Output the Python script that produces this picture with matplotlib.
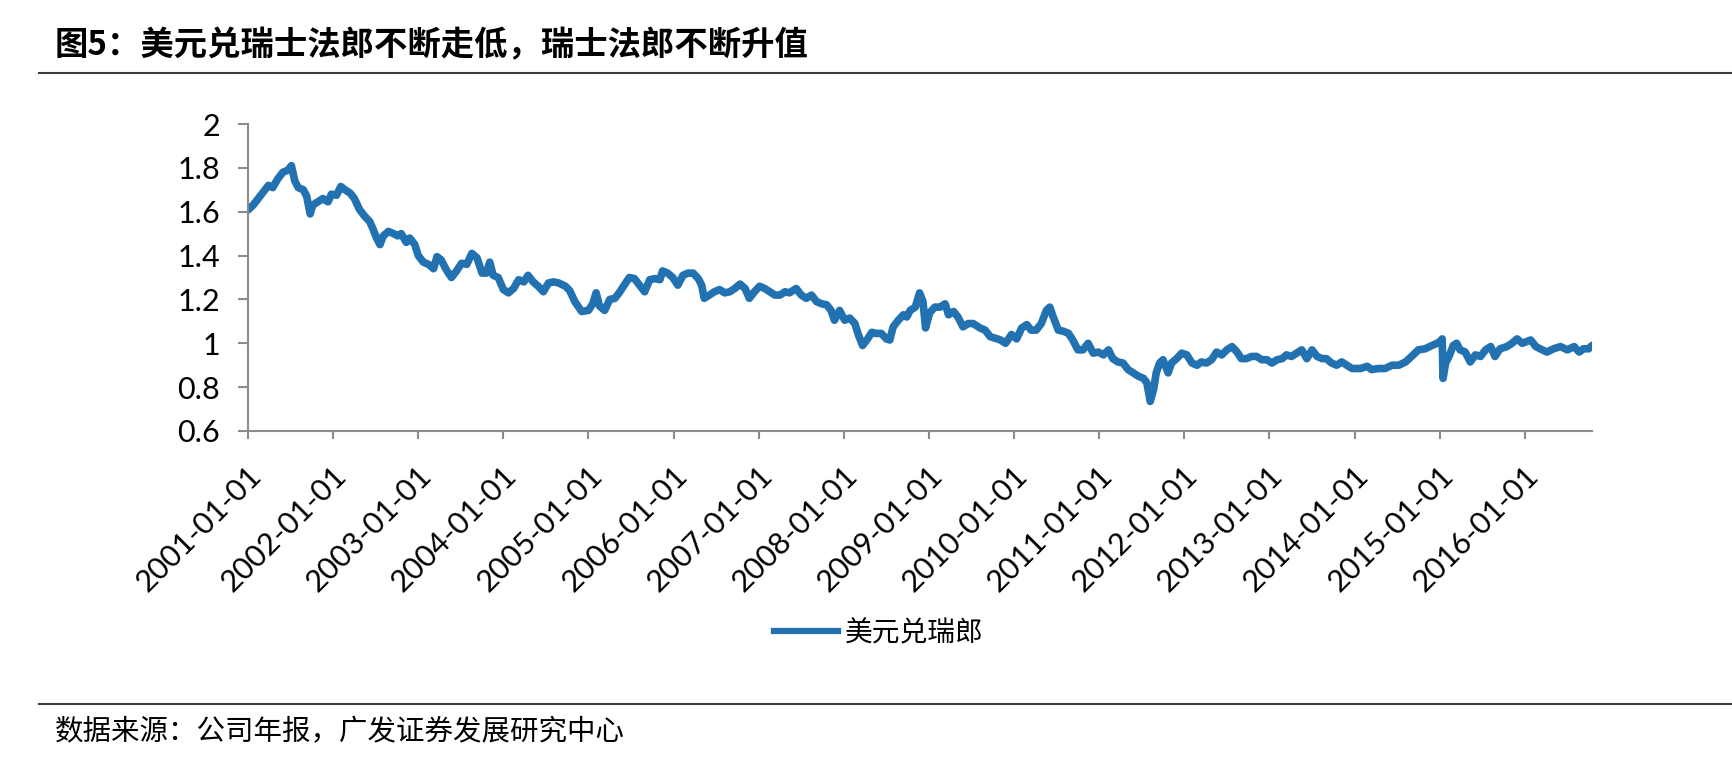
import matplotlib
matplotlib.use("Agg")
import matplotlib.pyplot as plt
import matplotlib.transforms as mtransforms
from matplotlib.lines import Line2D

plt.rcParams["font.family"] = ["Noto Sans CJK SC", "DejaVu Sans"]

# USD/CHF (decimal year, rate)
t_year = [
    2001.00, 2001.06, 2001.12, 2001.18, 2001.24, 2001.29, 2001.35, 2001.41, 2001.47, 2001.51,
    2001.55, 2001.59, 2001.65, 2001.69, 2001.73, 2001.76, 2001.82, 2001.88, 2001.94, 2001.98,
    2002.04, 2002.09, 2002.14, 2002.20, 2002.25, 2002.31, 2002.37, 2002.43, 2002.47, 2002.51,
    2002.55, 2002.59, 2002.65, 2002.71, 2002.76, 2002.80, 2002.86, 2002.90, 2002.96, 2003.00,
    2003.06, 2003.12, 2003.18, 2003.22, 2003.27, 2003.33, 2003.39, 2003.45, 2003.51, 2003.57,
    2003.63, 2003.69, 2003.75, 2003.80, 2003.84, 2003.88, 2003.94, 2004.00, 2004.06, 2004.12,
    2004.18, 2004.24, 2004.29, 2004.35, 2004.41, 2004.47, 2004.53, 2004.59, 2004.65, 2004.73,
    2004.78, 2004.84, 2004.92,
    2005.00, 2005.05, 2005.09, 2005.13, 2005.19, 2005.25, 2005.31, 2005.36, 2005.42, 2005.48,
    2005.54, 2005.60, 2005.66, 2005.72, 2005.78, 2005.84, 2005.87, 2005.93, 2005.99, 2006.05,
    2006.11, 2006.17, 2006.23, 2006.29, 2006.33, 2006.36, 2006.42, 2006.48, 2006.54, 2006.60,
    2006.66, 2006.72, 2006.78, 2006.84, 2006.89, 2006.95, 2007.01, 2007.07, 2007.13, 2007.19,
    2007.25, 2007.31, 2007.36, 2007.44, 2007.50, 2007.56, 2007.62, 2007.68, 2007.74, 2007.80,
    2007.85, 2007.89, 2007.95, 2008.01, 2008.07, 2008.13, 2008.17, 2008.22, 2008.27, 2008.33,
    2008.38, 2008.44, 2008.50, 2008.54, 2008.58, 2008.64, 2008.70, 2008.74, 2008.78, 2008.84,
    2008.89, 2008.93, 2008.96, 2009.01, 2009.07, 2009.13, 2009.19, 2009.23, 2009.29, 2009.34,
    2009.40, 2009.46, 2009.52, 2009.60, 2009.66, 2009.72, 2009.78, 2009.84, 2009.90,
    2009.97, 2010.03, 2010.09, 2010.15, 2010.20, 2010.26, 2010.32, 2010.38, 2010.42, 2010.46,
    2010.52, 2010.58, 2010.64, 2010.69, 2010.75, 2010.81, 2010.87, 2010.93, 2010.99, 2011.05,
    2011.11, 2011.16, 2011.22, 2011.28, 2011.34, 2011.40, 2011.46, 2011.52, 2011.56, 2011.60,
    2011.64, 2011.67, 2011.71, 2011.75, 2011.81, 2011.85, 2011.91, 2011.97, 2012.03, 2012.09,
    2012.15, 2012.20, 2012.26, 2012.32, 2012.38, 2012.44, 2012.50, 2012.56, 2012.62, 2012.67,
    2012.73, 2012.79, 2012.85, 2012.91, 2012.97, 2013.03, 2013.09, 2013.15, 2013.20, 2013.26,
    2013.32, 2013.38, 2013.44, 2013.50, 2013.56, 2013.62, 2013.67, 2013.73, 2013.79, 2013.85,
    2013.91, 2013.97,
    2014.07, 2014.15, 2014.20, 2014.28, 2014.36, 2014.44, 2014.52, 2014.60, 2014.67, 2014.75,
    2014.83, 2014.91, 2014.97, 2015.01, 2015.03, 2015.04, 2015.07, 2015.11, 2015.16, 2015.20,
    2015.24, 2015.30, 2015.36, 2015.42, 2015.48, 2015.54, 2015.60, 2015.65, 2015.71, 2015.79,
    2015.85, 2015.91, 2015.97, 2016.07, 2016.13, 2016.18, 2016.26, 2016.34, 2016.42, 2016.50,
    2016.58, 2016.64, 2016.69, 2016.75, 2016.79,
]
usdchf = [
    1.608, 1.63, 1.66, 1.69, 1.72, 1.71, 1.75, 1.78, 1.79, 1.81,
    1.74, 1.71, 1.70, 1.67, 1.59, 1.63, 1.645, 1.66, 1.645, 1.68,
    1.675, 1.715, 1.70, 1.685, 1.66, 1.61, 1.58, 1.555, 1.52, 1.48,
    1.45, 1.49, 1.51, 1.50, 1.49, 1.50, 1.46, 1.48, 1.45, 1.40,
    1.37, 1.36, 1.34, 1.395, 1.38, 1.335, 1.30, 1.33, 1.365, 1.36,
    1.41, 1.39, 1.32, 1.32, 1.37, 1.31, 1.30, 1.245, 1.23, 1.25,
    1.29, 1.28, 1.31, 1.28, 1.26, 1.235, 1.275, 1.28, 1.275, 1.26,
    1.24, 1.19, 1.145,
    1.15, 1.18, 1.23, 1.17, 1.15, 1.20, 1.205, 1.23, 1.265, 1.30,
    1.295, 1.265, 1.235, 1.29, 1.295, 1.29, 1.33, 1.32, 1.30, 1.265,
    1.31, 1.32, 1.32, 1.295, 1.265, 1.205, 1.22, 1.235, 1.245, 1.23,
    1.235, 1.25, 1.27, 1.25, 1.205, 1.235, 1.26, 1.25, 1.235, 1.22,
    1.22, 1.235, 1.23, 1.25, 1.22, 1.205, 1.22, 1.19, 1.18, 1.175,
    1.15, 1.105, 1.15, 1.105, 1.115, 1.09, 1.04, 0.99, 1.015, 1.05,
    1.045, 1.045, 1.02, 1.015, 1.075, 1.105, 1.13, 1.12, 1.15, 1.165,
    1.23, 1.19, 1.07, 1.14, 1.165, 1.165, 1.18, 1.13, 1.145, 1.12,
    1.075, 1.09, 1.09, 1.07, 1.06, 1.03, 1.023, 1.015, 1.00,
    1.04, 1.02, 1.07, 1.085, 1.06, 1.06, 1.09, 1.15, 1.165, 1.12,
    1.06, 1.055, 1.045, 1.015, 0.97, 0.97, 1.00, 0.955, 0.96, 0.947,
    0.97, 0.93, 0.915, 0.91, 0.88, 0.865, 0.85, 0.84, 0.82, 0.735,
    0.79, 0.865, 0.91, 0.925, 0.865, 0.91, 0.93, 0.955, 0.947, 0.91,
    0.90, 0.915, 0.91, 0.925, 0.96, 0.947, 0.97, 0.985, 0.96, 0.93,
    0.93, 0.94, 0.94, 0.925, 0.925, 0.91, 0.925, 0.93, 0.947, 0.94,
    0.955, 0.97, 0.93, 0.97, 0.94, 0.93, 0.93, 0.91, 0.90, 0.915,
    0.90, 0.885,
    0.885, 0.895, 0.88, 0.885, 0.885, 0.90, 0.90, 0.915, 0.94, 0.97,
    0.975, 0.99, 1.00, 1.01, 1.02, 0.84, 0.91, 0.94, 0.99, 1.00,
    0.97, 0.96, 0.915, 0.947, 0.94, 0.97, 0.985, 0.94, 0.975, 0.985,
    1.00, 1.02, 1.00, 1.015, 0.985, 0.975, 0.96, 0.975, 0.985, 0.97,
    0.985, 0.96, 0.975, 0.975, 0.99,
]
tick_years = list(range(2001, 2017))
tick_labels = [f"{y}-01-01" for y in tick_years]
y_ticks = [0.6, 0.8, 1.0, 1.2, 1.4, 1.6, 1.8, 2.0]
y_labels = ["0.6", "0.8", "1", "1.2", "1.4", "1.6", "1.8", "2"]

series_name = "美元兑瑞郎"
title = "图5：美元兑瑞士法郎不断走低，瑞士法郎不断升值"
source = "数据来源：公司年报，广发证券发展研究中心"

blue = "#2271B0"
axis_gray = "#8C8C8C"
rule_gray = "#3C3C3C"

W, H = 1732, 762
fig = plt.figure(figsize=(W / 100, H / 100), dpi=100)
fig.patch.set_facecolor("white")
ax = fig.add_axes([248 / W, 1 - 431 / H, (1592 - 248) / W, (431 - 124) / H])

ax.plot(t_year, usdchf, color=blue, linewidth=5.5, solid_joinstyle="round", solid_capstyle="round")

ax.set_xlim(2001.0, 2016.79)
ax.set_ylim(0.6, 2.0)
ax.set_yticks(y_ticks)
ax.set_yticklabels(y_labels, fontfamily="Lato", fontsize=22)
ax.set_xticks(tick_years)
ax.set_xticklabels(tick_labels, fontfamily="Lato", fontsize=22,
                   rotation=45, ha="right", va="center", rotation_mode="anchor")

for spine in ["top", "right"]:
    ax.spines[spine].set_visible(False)
for spine in ["left", "bottom"]:
    ax.spines[spine].set_color(axis_gray)
    ax.spines[spine].set_linewidth(1.5)
ax.tick_params(axis="y", direction="out", length=7, width=1.5, color=axis_gray, pad=13, labelcolor="black")
ax.tick_params(axis="x", direction="out", length=6, width=1.5, color=axis_gray, pad=23, labelcolor="black")

# nudge rotated date labels so their ends sit just right of the ticks, as in the original
offset = mtransforms.ScaledTranslation(9 / 100, 0, fig.dpi_scale_trans)
for lab in ax.get_xticklabels():
    lab.set_transform(lab.get_transform() + offset)

handle = Line2D([], [], color=blue, linewidth=4.5)
fig.legend([handle], [series_name], loc="center", bbox_to_anchor=(879 / W, 1 - 633 / H),
           frameon=False, fontsize=20, handlelength=2.3, handletextpad=0.25, borderpad=0)

fig.text(55 / W, 1 - 46 / H, title, fontsize=24, fontweight="bold", ha="left", va="center")
fig.add_artist(Line2D([39 / W, 1.0], [1 - 73 / H, 1 - 73 / H], color=rule_gray, linewidth=1.5))
fig.add_artist(Line2D([39 / W, 1.0], [1 - 704 / H, 1 - 704 / H], color=rule_gray, linewidth=1.5))
fig.text(55 / W, 1 - 732 / H, source, fontsize=20.5, ha="left", va="center")

fig.savefig("out.png", dpi=100)
